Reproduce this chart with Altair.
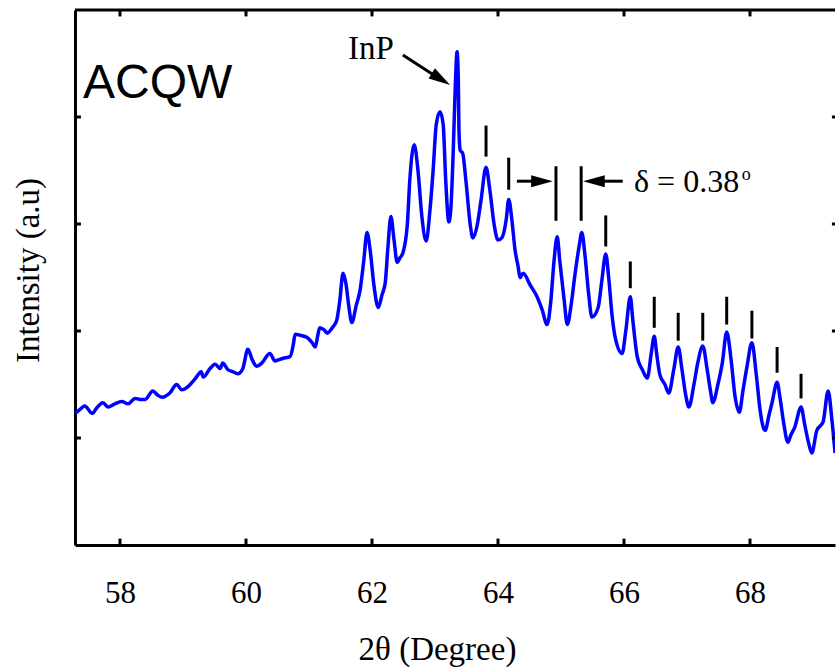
import altair as alt
import pandas as pd

# ---- data ----
two_theta = [57.29, 57.37, 57.44, 57.56, 57.63, 57.73, 57.81, 57.92, 58.03, 58.13,
             58.24, 58.32, 58.40, 58.52, 58.60, 58.67, 58.79, 58.90, 58.98, 59.08,
             59.19, 59.29, 59.32, 59.43, 59.51, 59.59, 59.63, 59.71, 59.79, 59.87,
             59.95, 60.03, 60.10, 60.17, 60.25, 60.38, 60.46, 60.51, 60.62, 60.70,
             60.75, 60.78, 60.86, 60.97, 61.05, 61.10, 61.14, 61.17, 61.24, 61.29,
             61.37, 61.44, 61.49, 61.54, 61.59, 61.63, 61.68, 61.75, 61.81, 61.87,
             61.92, 61.97, 62.03, 62.10, 62.16, 62.21, 62.25, 62.30, 62.35, 62.40,
             62.44, 62.49, 62.56, 62.60, 62.67, 62.73, 62.79, 62.86, 62.92, 62.97,
             63.02, 63.08, 63.13, 63.17, 63.22, 63.25, 63.29, 63.32, 63.35, 63.37,
             63.38, 63.40, 63.44, 63.49, 63.56, 63.60, 63.67, 63.73, 63.81, 63.87,
             63.94, 64.00, 64.06, 64.13, 64.17, 64.22, 64.27, 64.32, 64.35, 64.40,
             64.51, 64.62, 64.70, 64.78, 64.84, 64.89, 64.94, 64.98, 65.05, 65.10,
             65.16, 65.22, 65.29, 65.33, 65.38, 65.44, 65.49, 65.59, 65.65, 65.71,
             65.76, 65.81, 65.86, 65.97, 66.03, 66.10, 66.14, 66.21, 66.29, 66.37,
             66.43, 66.48, 66.52, 66.57, 66.65, 66.71, 66.79, 66.86, 66.92, 66.98,
             67.03, 67.11, 67.17, 67.25, 67.32, 67.37, 67.41, 67.49, 67.56, 67.63,
             67.70, 67.76, 67.83, 67.89, 67.95, 68.03, 68.10, 68.16, 68.24, 68.30,
             68.35, 68.43, 68.48, 68.54, 68.60, 68.65, 68.71, 68.81, 68.87, 68.94,
             68.98, 69.06, 69.16, 69.24, 69.30, 69.35]
intensity = [1.23, 1.27, 1.30, 1.23, 1.28, 1.33, 1.29, 1.32, 1.34, 1.32,
             1.37, 1.36, 1.36, 1.44, 1.40, 1.38, 1.42, 1.50, 1.45, 1.48,
             1.55, 1.62, 1.57, 1.65, 1.69, 1.65, 1.70, 1.64, 1.62, 1.60,
             1.65, 1.83, 1.73, 1.67, 1.70, 1.79, 1.72, 1.73, 1.75, 1.76,
             1.87, 1.97, 1.96, 1.94, 1.89, 1.85, 1.96, 2.03, 2.01, 1.98,
             2.03, 2.10, 2.29, 2.54, 2.43, 2.24, 2.08, 2.24, 2.38, 2.66,
             2.92, 2.76, 2.43, 2.22, 2.34, 2.45, 2.76, 3.07, 2.85, 2.64,
             2.68, 2.73, 2.99, 3.41, 3.74, 3.50, 3.08, 2.84, 3.13, 3.50,
             3.93, 4.05, 3.93, 3.41, 3.02, 3.13, 3.69, 4.25, 4.61, 4.35,
             3.88, 3.69, 3.66, 3.41, 2.99, 2.87, 2.99, 3.22, 3.53, 3.32,
             2.99, 2.85, 2.87, 3.04, 3.23, 3.04, 2.76, 2.60, 2.50, 2.54,
             2.43, 2.32, 2.20, 2.06, 2.29, 2.66, 2.88, 2.66, 2.29, 2.06,
             2.24, 2.52, 2.80, 2.92, 2.71, 2.34, 2.13, 2.22, 2.48, 2.72,
             2.48, 2.15, 1.94, 1.79, 2.01, 2.32, 2.10, 1.76, 1.64, 1.56,
             1.78, 1.95, 1.78, 1.59, 1.50, 1.42, 1.64, 1.85, 1.64, 1.40,
             1.29, 1.50, 1.70, 1.86, 1.64, 1.45, 1.33, 1.50, 1.70, 1.99,
             1.73, 1.40, 1.24, 1.45, 1.66, 1.89, 1.59, 1.26, 1.07, 1.21,
             1.33, 1.52, 1.36, 1.12, 0.96, 1.03, 1.10, 1.29, 1.12, 0.93,
             0.86, 1.07, 1.15, 1.44, 1.17, 0.86]

# satellite-peak marker bars
marker_x = [63.81, 64.17, 64.92, 65.32, 65.71, 66.10, 66.48, 66.86, 67.25, 67.63, 68.03, 68.43, 68.81]
marker_top = [3.92, 3.62, 3.54, 3.54, 3.08, 2.65, 2.32, 2.17, 2.17, 2.32, 2.19, 1.85, 1.60]
marker_bottom = [3.63, 3.32, 3.03, 3.03, 2.79, 2.40, 2.03, 1.91, 1.91, 2.06, 1.93, 1.61, 1.37]

# arrows: tail -> neck (shaft), tip (head)
arrow_tail_x = [62.49, 64.30, 65.98]
arrow_tail_y = [4.58, 3.40, 3.40]
arrow_neck_x = [63.09, 64.71, 65.51]
arrow_neck_y = [4.35, 3.40, 3.40]
arrow_tip_x = [63.24, 64.87, 65.35]
arrow_tip_y = [4.30, 3.40, 3.40]
arrow_angle = [122, 90, 270]

x_tick_values = [58, 60, 62, 64, 66, 68]
y_tick_values = [1, 2, 3, 4]
x_domain = [57.286, 69.349]
y_domain = [0, 5]

SERIF = "Liberation Serif"
SANS = "Liberation Sans"

xs = alt.Scale(domain=x_domain, nice=False, zero=False)
ys = alt.Scale(domain=y_domain, nice=False, zero=False)

x_axis = alt.Axis(values=x_tick_values, title="2θ (Degree)", grid=False,
                  ticks=False, tickSize=0, labelPadding=33,
                  labelFont=SERIF, labelFontSize=31, labelColor="black",
                  titleFont=SERIF, titleFontSize=33, titleFontWeight="normal",
                  titleColor="black", titlePadding=25, titleX=362,
                  domainColor="black", domainWidth=3, labelFlush=False)
y_axis = alt.Axis(values=y_tick_values, title="Intensity (a.u)", grid=False,
                  ticks=False, tickSize=0, labels=False, labelPadding=0,
                  titleFont=SERIF, titleFontSize=33, titleFontWeight="normal",
                  titleColor="black", titlePadding=30, titleY=260,
                  domainColor="black", domainWidth=3)


def X(field):
    return alt.X(field, scale=xs, axis=x_axis, title="2θ (Degree)")


def Y(field):
    return alt.Y(field, scale=ys, axis=y_axis, title="Intensity (a.u)")


def XD(v):
    return alt.XDatum(v, scale=xs, axis=x_axis, title="2θ (Degree)")


def YD(v):
    return alt.YDatum(v, scale=ys, axis=y_axis, title="Intensity (a.u)")


curve = pd.DataFrame({"two_theta": two_theta, "intensity": intensity})

line = alt.Chart(curve).mark_line(
    color="#0000ff", strokeWidth=3.5, clip=True, interpolate="monotone"
).encode(x=X("two_theta:Q"), y=Y("intensity:Q"))

markers = alt.Chart(pd.DataFrame({"x": marker_x, "y1": marker_bottom, "y2": marker_top})).mark_rule(
    color="black", strokeWidth=3).encode(x=X("x:Q"), y=Y("y1:Q"), y2="y2:Q")

arrows_df = pd.DataFrame({
    "tx": arrow_tail_x, "ty": arrow_tail_y,
    "nx": arrow_neck_x, "ny": arrow_neck_y,
    "px": arrow_tip_x, "py": arrow_tip_y, "ang": arrow_angle,
})
shafts = alt.Chart(arrows_df).mark_rule(color="black", strokeWidth=3).encode(
    x=X("tx:Q"), y=Y("ty:Q"), x2="nx:Q", y2="ny:Q")
heads = alt.Chart(arrows_df).mark_point(
    shape="M0,0L0.55,2L-0.55,2Z", filled=True, color="black", opacity=1, size=470
).encode(x=X("px:Q"), y=Y("py:Q"), angle=alt.Angle("ang:Q", scale=None))

# frame: top border + inward ticks
one = pd.DataFrame({"a": [0]})
top_border = alt.Chart(one).mark_rule(color="black", strokeWidth=3).encode(
    x=XD(x_domain[0]), x2=alt.datum(x_domain[1]), y=YD(y_domain[1]))
xt = pd.DataFrame({"t": x_tick_values})
yt = pd.DataFrame({"t": y_tick_values})
bottom_ticks = alt.Chart(xt).mark_rule(color="black", strokeWidth=3).encode(
    x=X("t:Q"), y=YD(0.0), y2=alt.datum(0.06))
top_ticks = alt.Chart(xt).mark_rule(color="black", strokeWidth=3).encode(
    x=X("t:Q"), y=YD(5.0), y2=alt.datum(4.94))
left_ticks = alt.Chart(yt).mark_rule(color="black", strokeWidth=3).encode(
    y=Y("t:Q"), x=XD(x_domain[0]), x2=alt.datum(57.38))
right_ticks = alt.Chart(yt).mark_rule(color="black", strokeWidth=3, clip=True).encode(
    y=Y("t:Q"), x=XD(69.30), x2=alt.datum(x_domain[1]))


# annotations
def label(text, x, y, font, size, align="left"):
    return alt.Chart(pd.DataFrame({"x": [x], "y": [y], "s": [text]})).mark_text(
        font=font, fontSize=size, color="black", align=align, baseline="alphabetic"
    ).encode(x=X("x:Q"), y=Y("y:Q"), text="s:N")


acqw = label("ACQW", 57.413, 4.178, SANS, 48)
inp = label("InP", 61.619, 4.542, SERIF, 33)
delta = label("δ = 0.38", 66.159, 3.299, SERIF, 32)
deg = label("o", 67.94, 3.41, SERIF, 18, align="center")

chart = alt.layer(
    line, markers, shafts, heads, top_border, bottom_ticks, top_ticks, left_ticks, right_ticks,
    acqw, inp, delta, deg,
).properties(
    width=760, height=535,
    autosize=alt.AutoSizeParams(type="none"),
    padding={"left": 75, "top": 10, "right": 1, "bottom": 123},
).configure_view(strokeWidth=0)

chart.save("out.html", embed_options={"renderer": "svg", "actions": False})
